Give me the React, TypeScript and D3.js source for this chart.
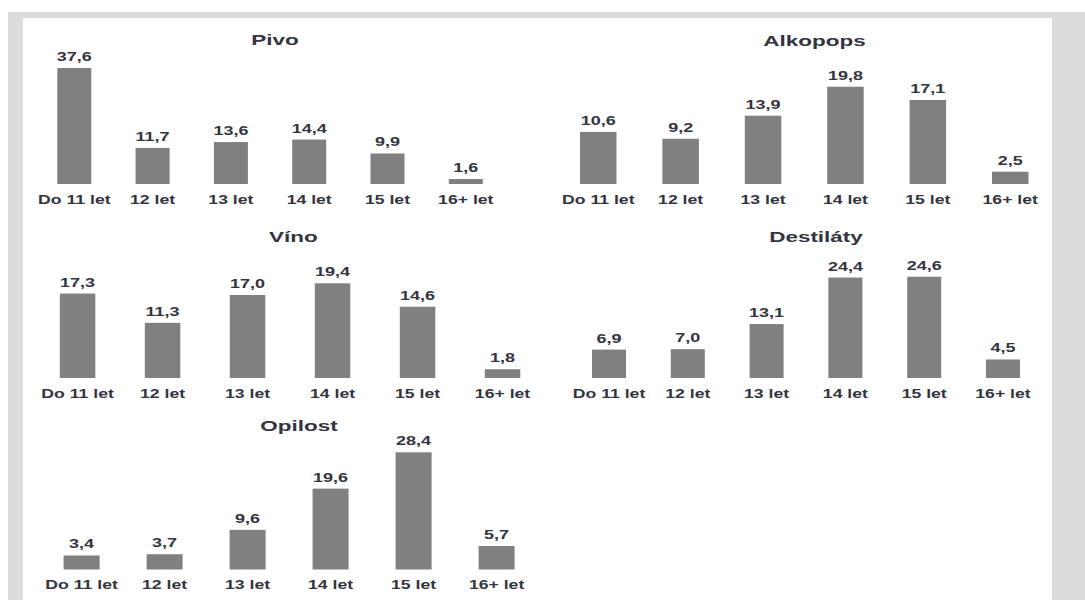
import React from "react";
import * as d3 from "d3";

// Age groups shared by every panel
const ageGroups = ["Do 11 let", "12 let", "13 let", "14 let", "15 let", "16+ let"];

// Percentages per panel
const pivo = [37.6, 11.7, 13.6, 14.4, 9.9, 1.6];
const alkopops = [10.6, 9.2, 13.9, 19.8, 17.1, 2.5];
const vino = [17.3, 11.3, 17.0, 19.4, 14.6, 1.8];
const destilaty = [6.9, 7.0, 13.1, 24.4, 24.6, 4.5];
const opilost = [3.4, 3.7, 9.6, 19.6, 28.4, 5.7];

const panelTitles = ["Pivo", "Alkopops", "Víno", "Destiláty", "Opilost"];
const panelValues = [pivo, alkopops, vino, destilaty, opilost];

// Layout of each small chart: first bar left edge, bar step, bar width,
// baseline y, height of the tallest bar, title position
const layouts = [
  { left: 57.3, step: 78.3, bw: 34, bottom: 184, maxH: 116, tx: 275, ty: 45, ly: 204 },
  { left: 580, step: 82.4, bw: 36.5, bottom: 184, maxH: 97.3, tx: 814.5, ty: 46, ly: 204 },
  { left: 59.8, step: 85.0, bw: 35.5, bottom: 378, maxH: 94.7, tx: 293.4, ty: 241.5, ly: 398 },
  { left: 592, step: 78.8, bw: 34, bottom: 378, maxH: 101.3, tx: 816, ty: 241.5, ly: 398 },
  { left: 63.6, step: 83.0, bw: 36, bottom: 569.5, maxH: 117.2, tx: 299, ty: 431, ly: 589 },
];

const BAR = "#808080";
const TEXT = "#34343f";
const FONT = "'Liberation Sans', Arial, sans-serif";
const fmt = (v: number) => v.toFixed(1).replace(".", ",");

function Label({ x, y, text, size, sx }: { x: number; y: number; text: string; size: number; sx: number }) {
  return (
    <text
      transform={`translate(${x},${y}) scale(${sx},1)`}
      textAnchor="middle"
      fontFamily={FONT}
      fontWeight="bold"
      fontSize={size}
      fill={TEXT}
    >
      {text}
    </text>
  );
}

function Panel({ title, values, lay }: { title: string; values: number[]; lay: (typeof layouts)[number] }) {
  const pad = 1 - lay.bw / lay.step;
  const start = lay.left - (lay.step - lay.bw) / 2;
  const x = d3
    .scaleBand<string>()
    .domain(ageGroups)
    .range([start, start + lay.step * ageGroups.length])
    .paddingInner(pad)
    .paddingOuter(pad / 2);
  const y = d3
    .scaleLinear()
    .domain([0, d3.max(values) as number])
    .range([lay.bottom, lay.bottom - lay.maxH]);

  return (
    <g>
      <Label x={lay.tx} y={lay.ty} text={title} size={14.5} sx={1.55} />
      {ageGroups.map((g, i) => {
        const bx = x(g) as number;
        const cx = bx + x.bandwidth() / 2;
        const top = y(values[i]);
        return (
          <g key={g}>
            <rect x={bx} y={top} width={x.bandwidth()} height={lay.bottom - top} fill={BAR} />
            <Label x={cx} y={top - 7} text={fmt(values[i])} size={12} sx={1.5} />
            <Label x={cx} y={lay.ly} text={g} size={12} sx={1.47} />
          </g>
        );
      })}
    </g>
  );
}

export default function App() {
  return (
    <div style={{ position: "absolute", left: 0, top: 0 }}>
      <svg width={1085} height={600} style={{ display: "block" }}>
        <rect x={0} y={0} width={1085} height={600} fill="#ffffff" />
        <rect x={8} y={12} width={1077} height={588} fill="#dcdcdc" />
        <rect x={23} y={18} width={1029} height={582} fill="#ffffff" />
        {panelTitles.map((t, i) => (
          <Panel key={t} title={t} values={panelValues[i]} lay={layouts[i]} />
        ))}
      </svg>
    </div>
  );
}
